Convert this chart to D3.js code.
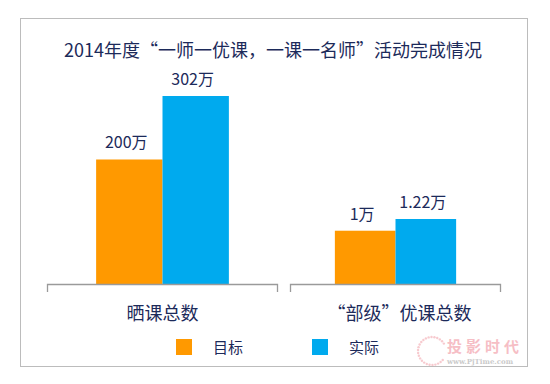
<!DOCTYPE html>
<html>
<head>
<meta charset="utf-8">
<script src="https://cdn.jsdelivr.net/npm/d3@7"></script>
<style>
  body { margin: 0; background: #fff; }
  svg text { font-family: "Noto Sans CJK SC", "Noto Sans", sans-serif; }
</style>
</head>
<body>
<div id="chart"></div>
<script>
// ### Data ###
var categories = ["晒课总数", "“部级”优课总数"];
var series     = ["目标", "实际"];
var valuesLeft  = [200, 302];    // 晒课总数, 万
var valuesRight = [1, 1.22];     // 部级优课总数, 万
var labelsLeft  = ["200万", "302万"];
var labelsRight = ["1万", "1.22万"];
var title = "2014年度“一师一优课，一课一名师”活动完成情况";

var width = 550, height = 384;
var colors = ["#ff9900", "#00aaee"];
var textColor = "#1c2a5a";

var svg = d3.select("#chart").append("svg")
    .attr("width", width)
    .attr("height", height);

// frame
svg.append("rect")
    .attr("x", 20.5).attr("y", 18.5)
    .attr("width", 507).attr("height", 348)
    .style("fill", "none")
    .style("stroke", "#bcbcbc")
    .style("stroke-width", 1);

svg.append("text")
    .attr("x", 273).attr("y", 57)
    .attr("text-anchor", "middle")
    .style("font-size", "18px")
    .style("fill", textColor)
    .text(title);

var baseline = 284;

// each category has its own value scale
var panels = [
    { x0: 47, x1: 278, values: valuesLeft,  labels: labelsLeft,  y: d3.scaleLinear().domain([0, 302]).range([baseline, 96]) },
    { x0: 290, x1: 501, values: valuesRight, labels: labelsRight, y: d3.scaleLinear().domain([0, 1.22]).range([baseline, 219]) }
];

panels.forEach(function(p, pi){
    var g = svg.append("g");
    var x = d3.scaleBand()
        .domain(series)
        .range([p.x0, p.x1])
        .paddingInner(0)
        .paddingOuter(0.74);

    g.selectAll(".bar")
        .data(p.values)
        .enter().append("rect")
        .attr("class", "bar")
        .attr("x", function(d, i){ return x(series[i]); })
        .attr("width", x.bandwidth())
        .attr("y", function(d){ return p.y(d); })
        .attr("height", function(d){ return baseline - p.y(d); })
        .style("fill", function(d, i){ return colors[i]; });

    g.selectAll(".val")
        .data(p.values)
        .enter().append("text")
        .attr("class", "val")
        .attr("x", function(d, i){ return x(series[i]) + x.bandwidth() / 2 - 3; })
        .attr("y", function(d){ return p.y(d) - 11; })
        .attr("text-anchor", "middle")
        .style("font-size", "16px")
        .style("fill", textColor)
        .text(function(d, i){ return p.labels[i]; });

    // axis baseline with end ticks
    g.append("path")
        .attr("d", "M" + (p.x0 + 0.5) + "," + 292 + "V" + (baseline + 0.5) + "H" + (p.x1 - 0.5) + "V" + 292)
        .style("fill", "none")
        .style("stroke", "#9a9a9a")
        .style("stroke-width", 1.3);

    g.append("text")
        .attr("x", (p.x0 + p.x1) / 2 + (pi ? 4 : 0))
        .attr("y", 320)
        .attr("text-anchor", "middle")
        .style("font-size", "18px")
        .style("fill", textColor)
        .text(categories[pi]);
});

// legend
var legendX = [176, 312];
var legend = svg.selectAll(".legend")
    .data(series)
    .enter().append("g")
    .attr("class", "legend")
    .attr("transform", function(d, i){ return "translate(" + legendX[i] + ",339)"; });

legend.append("rect")
    .attr("width", 16).attr("height", 16)
    .style("fill", function(d, i){ return colors[i]; });

legend.append("text")
    .attr("x", 37).attr("y", 14)
    .style("font-size", "15px")
    .style("fill", textColor)
    .text(function(d){ return d; });

// watermark
var wm = svg.append("g").style("opacity", 0.55);
wm.selectAll(".dot")
    .data(d3.range(0, 300, 12))
    .enter().append("circle")
    .attr("cx", function(d){ return 432 + 14 * Math.cos((d + 40) * Math.PI / 180); })
    .attr("cy", function(d){ return 351 + 14 * Math.sin((d + 40) * Math.PI / 180); })
    .attr("r", 1.2)
    .style("fill", "#f2a0a8");
wm.append("text")
    .attr("x", 447).attr("y", 352)
    .style("font-size", "15px")
    .style("font-weight", "bold")
    .style("letter-spacing", "4px")
    .style("fill", "#f08a96")
    .text("投影时代");
wm.append("text")
    .attr("x", 447).attr("y", 364)
    .style("font-family", "DejaVu Serif, serif")
    .style("font-size", "7px")
    .style("font-weight", "bold")
    .style("fill", "#a0a0a0")
    .text("www.PjTime.com");
</script>
</body>
</html>
